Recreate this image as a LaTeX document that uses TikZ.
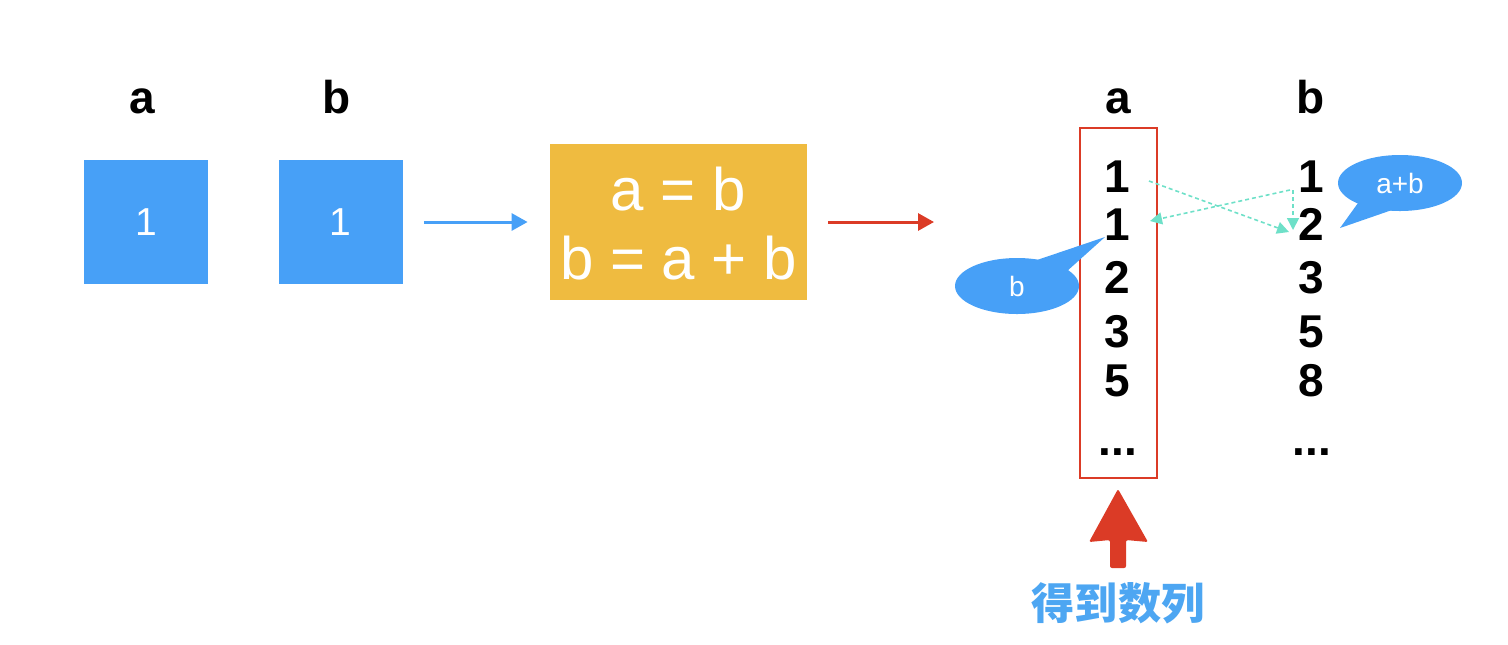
\documentclass[tikz,border=0pt]{standalone}
\usepackage{fontspec}
\setmainfont{Liberation Sans}
\newfontfamily\cjk{Noto Sans CJK SC}
\usetikzlibrary{arrows.meta,shapes.geometric}
\definecolor{boxblue}{HTML}{47A0F7}
\definecolor{goldbox}{HTML}{EFBB40}
\definecolor{redc}{HTML}{DB3B26}
\definecolor{dashteal}{HTML}{6EE0C8}
\definecolor{textblue}{HTML}{4DA6F2}
\begin{document}
\begin{tikzpicture}[x=0.5pt,y=-0.5pt,
  hdr/.style={font=\fontsize{23}{26}\selectfont\bfseries, anchor=base, inner sep=0pt},
  sq/.style={fill=boxblue, minimum size=62pt, inner sep=0pt, text=white, font=\fontsize{19.5}{22}\selectfont},
  eqtext/.style={text=white, font=\fontsize{30}{34}\selectfont, anchor=base, inner sep=0pt},
  callout/.style={ellipse, fill=boxblue, minimum width=62pt, minimum height=28pt, inner sep=0pt, text=white, font=\fontsize{14}{16}\selectfont},
  dasharrow/.style={draw=dashteal, line width=0.8pt, dash pattern=on 2pt off 1.5pt, -{Triangle[length=6pt,width=6pt,fill=dashteal]}},
  flowarrow/.style={line width=1.5pt, -{Triangle[length=8pt,width=8.5pt]}}
]
\useasboundingbox (0,0) rectangle (1508,644);
% headers left
\node[hdr] (ha) at (142,113) {a};
\node[hdr] (hb) at (337,113) {b};
% squares
\node[sq] (sqa) at (146,222) {1};
\node[sq] (sqb) at (340.5,222) {1};
% calc box
\node[fill=goldbox, minimum width=128.5pt, minimum height=78pt, inner sep=0pt] (calc) at (678.5,222) {};
\node[eqtext] (eq1) at (678.5,210) {a = b};
\node[eqtext] (eq2) at (678.5,279) {b = a + b};
% arrows
\draw[flowarrow, boxblue, shorten <=10.5pt, shorten >=11pt] (sqb.east) -- (calc.west);
% column box
\node[draw=redc, line width=1pt, minimum width=38.5pt, minimum height=175pt, inner sep=0pt] (col) at (1118.5,303) {};
\draw[flowarrow, redc, shorten <=10.5pt, shorten >=72.5pt] (calc.east) -- (calc.east -| col.west);
% headers right
\node[hdr] (ra) at (1118,113) {a};
\node[hdr] (rb) at (1311,113) {b};
% column a
\node[hdr] (a1) at (1117,192) {1};
\node[hdr] (a2) at (1117,240) {1};
\node[hdr] (a3) at (1117,293) {2};
\node[hdr] (a4) at (1117,347) {3};
\node[hdr] (a5) at (1117,396) {5};
\node[hdr] (a6) at (1118,455) {...};
% column b
\node[hdr] (b1) at (1311,192) {1};
\node[hdr] (b2) at (1311,240) {2};
\node[hdr] (b3) at (1311,293) {3};
\node[hdr] (b4) at (1311,347) {5};
\node[hdr] (b5) at (1311,396) {8};
\node[hdr] (b6) at (1312,455) {...};
% dashed arrows
\coordinate (d1s) at (1149,181);
\coordinate (d1e) at (1289,232);
\coordinate (d2s) at (1290,190);
\coordinate (d2e) at (1150,221);
\coordinate (d3s) at (1293,190);
\coordinate (d3e) at (1293,230);
\draw[dasharrow] (d1s) -- (d1e);
\draw[dasharrow] (d2s) -- (d2e);
\draw[dasharrow] (d3s) -- (d3e);
% callouts
\node[callout] (cb) at (1017,286) {b};
\coordinate (cbtip) at (1105,237);
\fill[boxblue] (1037,260) -- (cbtip) -- (1066,272) -- cycle;
\node[callout] (cab) at (1400,183) {a+b};
\coordinate (cabtip) at (1340,228);
\fill[boxblue] (1358,203) -- (cabtip) -- (1392,210) -- cycle;
% big red arrow
\coordinate (uptip) at (1118,489);
\fill[redc, rounded corners=1pt] (uptip) -- (1148,542) -- (1126,540) -- (1126,568) -- (1110,568) -- (1110,540) -- (1089,542) -- cycle;
\node[text=textblue, font=\cjk\bfseries\fontsize{21.6}{24}\selectfont, inner sep=0pt] (result) at (1118,603) {得到数列};
\end{tikzpicture}
\end{document}
